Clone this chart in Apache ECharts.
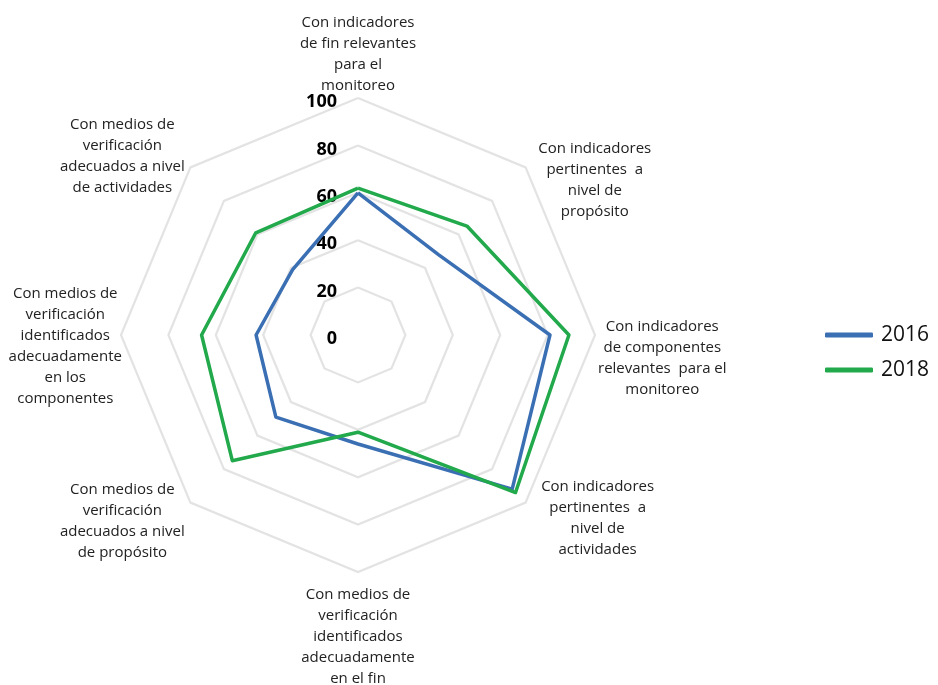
<!DOCTYPE html>
<html>
<head>
<meta charset="utf-8">
<script src="https://cdn.jsdelivr.net/npm/echarts@6/dist/echarts.min.js"></script>
<style>
    html, body { margin: 0; padding: 0; background: #fff; }
    #chart { width: 938px; height: 685px; }
</style>
</head>
<body>
<div id="chart"></div>
<script>
// indicadores, en el orden en que ECharts los dibuja (desde arriba, sentido antihorario)
const indicadores = [
    'Con indicadores\nde fin relevantes\npara el\nmonitoreo',
    'Con medios de\nverificación\nadecuados a nivel\nde actividades',
    'Con medios de\nverificación\nidentificados\nadecuadamente\nen los\ncomponentes',
    'Con medios de\nverificación\nadecuados a nivel\nde propósito',
    'Con medios de\nverificación\nidentificados\nadecuadamente\nen el fin',
    'Con indicadores\npertinentes  a\nnivel de\nactividades',
    'Con indicadores\nde componentes\nrelevantes  para el\nmonitoreo',
    'Con indicadores\npertinentes  a\nnivel de\npropósito'
];
const valores2016 = [60, 39, 43, 49, 46, 92, 81, 48];
const valores2018 = [62, 61, 66, 75, 41, 94, 89, 65];
const anios = ['2016', '2018'];

// ajustes de posición de cada nombre (separación y relleno)
const nameGaps = [2, 8, -1, 8, 12, 22, 3, 18];
const namePads = [
    [0, 0, 0, 0],
    [0, 0, 12, 0],
    [22, 0, 0, 0],
    [26, 0, 0, 0],
    [0, 0, 0, 0],
    [0, 0, 0, 0],
    [46, 0, 0, 0],
    [52, 0, 0, 0]
];

let myChart = echarts.init(document.getElementById('chart'));

let option = {
    backgroundColor: '#fff',
    color: ['#3b6fb3', '#21a94b'],
    legend: {
        data: anios,
        orient: 'vertical',
        left: 820,
        top: 318,
        icon: 'roundRect',
        itemWidth: 48,
        itemHeight: 5,
        itemGap: 11,
        textStyle: { fontSize: 21, lineHeight: 24, color: '#111', fontFamily: 'Open Sans', padding: [0, 0, 0, 3] }
    },
    radar: {
        center: [358, 335],
        radius: 237,
        startAngle: 90,
        shape: 'polygon',
        splitNumber: 5,
        axisLine: { show: false },
        axisTick: { show: false },
        splitArea: { show: false },
        splitLine: { lineStyle: { color: '#e3e3e3', width: 2.2 } },
        axisLabel: { show: false },
        axisName: {
            color: '#222',
            fontSize: 15,
            fontFamily: 'Open Sans',
            lineHeight: 21,
            formatter: function (name) {
                return name.split('\n').map(l => '{c|' + l + '}').join('\n');
            },
            rich: {
                c: { align: 'center', fontSize: 15, lineHeight: 21, color: '#222', fontFamily: 'Open Sans' }
            }
        },
        nameGap: 8,
        indicator: indicadores.map((n, i) => {
            let ind = {
                name: n, min: 0, max: 100,
                nameGap: nameGaps[i],
                nameMoveOverlap: false,
                nameTextStyle: { padding: namePads[i] }
            };
            if (i === 0) {
                ind.axisLabel = {
                    show: true,
                    margin: 21,
                    formatter: v => '{v|' + v + '}',
                    rich: {
                        v: {
                            fontSize: 18,
                            fontWeight: 'bold',
                            color: '#000',
                            fontFamily: 'Open Sans',
                            padding: [8, 0, 0, 0]
                        }
                    }
                };
            }
            return ind;
        })
    },
    series: [{
        type: 'radar',
        symbol: 'none',
        data: [
            { name: anios[0], value: valores2016, lineStyle: { width: 3.5 } },
            { name: anios[1], value: valores2018, lineStyle: { width: 3.5 } }
        ]
    }]
};

myChart.setOption(option);
</script>
</body>
</html>
